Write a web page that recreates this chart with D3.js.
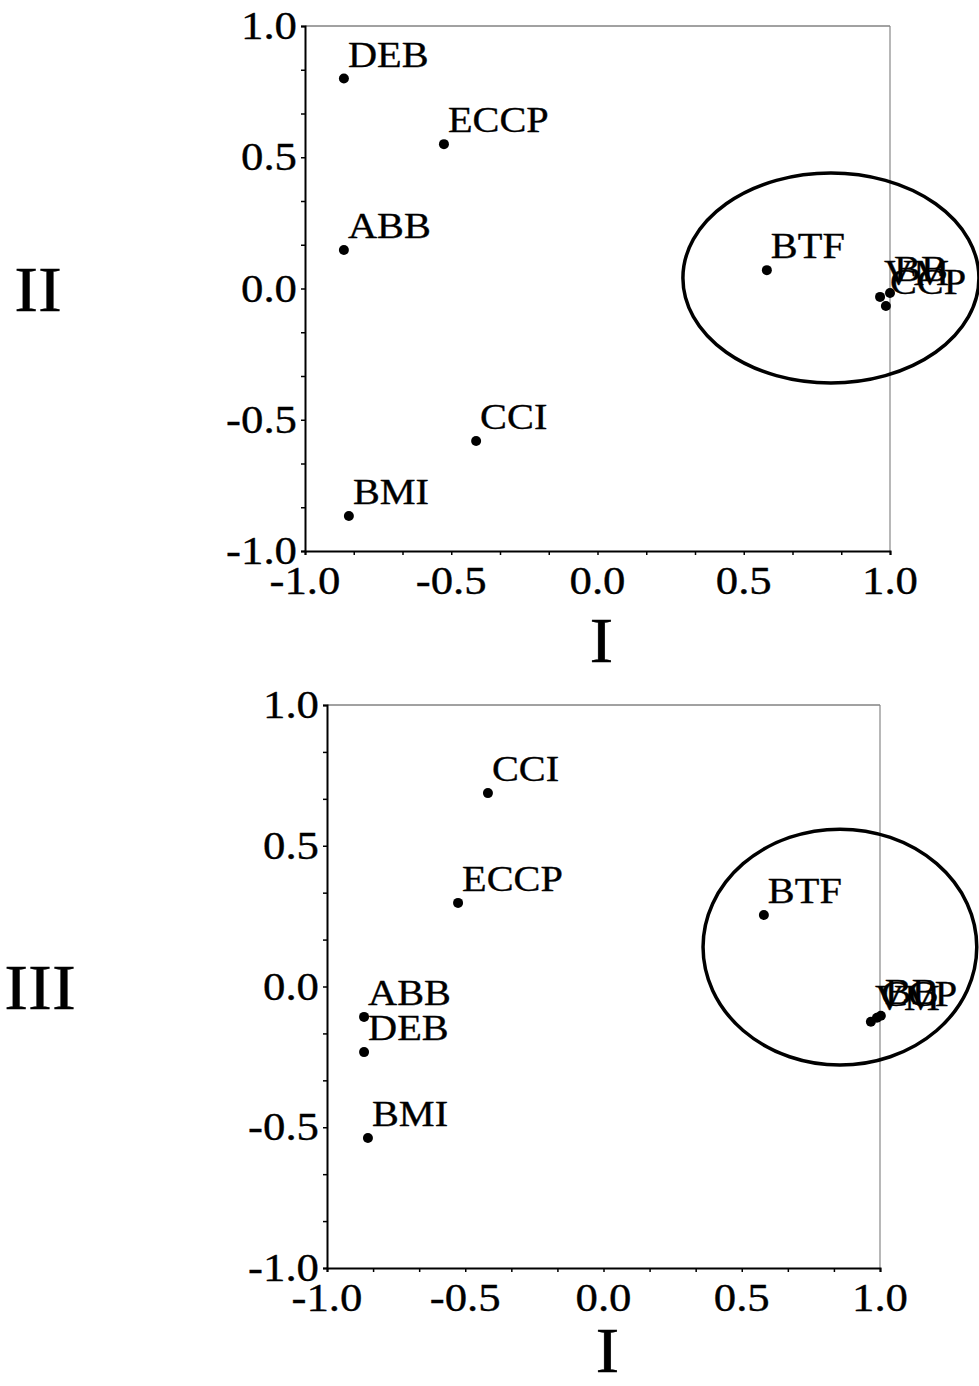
<!DOCTYPE html>
<html>
<head>
<meta charset="utf-8">
<script src="https://cdn.jsdelivr.net/npm/d3@7"></script>
<style>
  html, body { margin: 0; padding: 0; background: #fff; }
  svg { display: block; }
  text { font-family: "Liberation Serif", "Times New Roman", serif; fill: #000; stroke: #000; stroke-width: 0.35; }
</style>
</head>
<body>
<svg id="chart" width="979" height="1386"></svg>
<script>
// ---------- data ----------
const labels = ["DEB", "ECCP", "ABB", "CCI", "BMI", "BTF", "VM", "BB", "CCP"];

// Panel 1: component I vs component II
const pc1_II = [-0.867, -0.525, -0.867, -0.415, -0.850, 0.579, 0.966, 1.000, 0.986];
const pc2_II = [0.800, 0.550, 0.147, -0.581, -0.867, 0.070, -0.032, -0.017, -0.067];

// Panel 2: component I vs component III
const pc1_III = [-0.866, -0.526, -0.866, -0.418, -0.852, 0.580, 0.967, 1.003, 0.989];
const pc3_III = [-0.233, 0.297, -0.108, 0.687, -0.538, 0.254, -0.125, -0.104, -0.111];

// cluster ellipses: [cx, cy, rx, ry] in data units
const ellipseII = [0.798, 0.040, 0.506, 0.400];
const ellipseIII = [0.855, 0.140, 0.495, 0.419];

const tickValues = [-1.0, -0.5, 0.0, 0.5, 1.0];
const axisDomain = [-1, 1];
const xTitle = "I";
const yTitles = ["II", "III"];

// ---------- drawing ----------
const svg = d3.select("#chart");
const SX = 1.12; // horizontal stretch of the serif text

function stretchedText(g, x, y, str, size, anchor) {
  return g.append("text")
    .attr("transform", `translate(${x},${y}) scale(${SX},1)`)
    .attr("text-anchor", anchor)
    .attr("font-size", size)
    .text(str);
}

function drawPanel(opts) {
  const { left, right, top, bottom, xs, ys, ell, yTitle, yTitleX, xTitleY } = opts;
  const x = d3.scaleLinear().domain(axisDomain).range([left, right]);
  const y = d3.scaleLinear().domain(axisDomain).range([bottom, top]);
  const g = svg.append("g");

  // frame: top and right thin
  g.append("line").attr("x1", left).attr("x2", right).attr("y1", top).attr("y2", top)
    .attr("stroke", "#444").attr("stroke-width", 1);
  g.append("line").attr("x1", right).attr("x2", right).attr("y1", top).attr("y2", bottom)
    .attr("stroke", "#888").attr("stroke-width", 1.2);

  // minor + major ticks every 1/6
  const allTicks = d3.range(0, 13).map(i => -1 + i / 6);
  const xAxis = d3.axisBottom(x).tickValues(allTicks).tickSize(4).tickFormat("");
  const yAxis = d3.axisLeft(y).tickValues(allTicks).tickSize(4).tickFormat("");
  const gx = g.append("g").attr("transform", `translate(0,${bottom})`).call(xAxis);
  const gy = g.append("g").attr("transform", `translate(${left},0)`).call(yAxis);
  [gx, gy].forEach(a => {
    a.select(".domain").attr("stroke", "#000").attr("stroke-width", 2);
    a.selectAll(".tick line").attr("stroke", "#000").attr("stroke-width", 1.5);
  });

  // tick labels
  tickValues.forEach(v => {
    stretchedText(g, x(v), bottom + 43, v.toFixed(1), 40, "middle");
    stretchedText(g, left - 8, y(v) + 13, v.toFixed(1), 40, "end");
  });

  // axis titles
  stretchedText(g, (left + right) / 2 + 4, xTitleY, xTitle, 64, "middle");
  stretchedText(g, yTitleX, (top + bottom) / 2 + 22, yTitle, 64, "middle");

  // ellipse
  g.append("ellipse")
    .attr("cx", x(ell[0])).attr("cy", y(ell[1]))
    .attr("rx", x(ell[2]) - x(0)).attr("ry", y(0) - y(ell[3]))
    .attr("fill", "none").attr("stroke", "#000").attr("stroke-width", 3.5);

  // points
  const pts = labels.map((l, i) => ({ label: l, vx: xs[i], vy: ys[i] }));
  g.selectAll("circle.pt").data(pts).enter().append("circle")
    .attr("class", "pt")
    .attr("cx", d => x(d.vx)).attr("cy", d => y(d.vy)).attr("r", 5)
    .attr("fill", "#000");
  pts.forEach(d => {
    stretchedText(g, x(d.vx) + 4, y(d.vy) - 12, d.label, 36, "start");
  });
}

drawPanel({
  left: 305, right: 890, top: 26, bottom: 551,
  xs: pc1_II, ys: pc2_II, ell: ellipseII,
  yTitle: yTitles[0], yTitleX: 38, xTitleY: 662
});

drawPanel({
  left: 327, right: 880, top: 705, bottom: 1268,
  xs: pc1_III, ys: pc3_III, ell: ellipseIII,
  yTitle: yTitles[1], yTitleX: 40, xTitleY: 1372
});
</script>
</body>
</html>
